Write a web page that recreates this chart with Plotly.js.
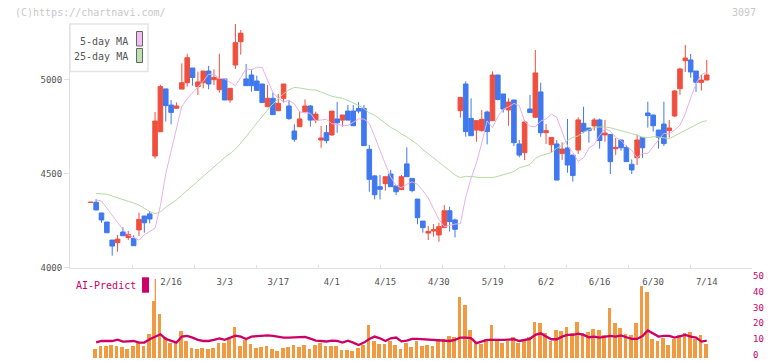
<!DOCTYPE html>
<html>
<head>
<meta charset="utf-8">
<script src="https://cdn.plot.ly/plotly-3.0.1.min.js"></script>
<style>html,body{margin:0;padding:0;background:#fff;}#chart{width:772px;height:361px;}</style>
</head>
<body>
<div id="chart"></div>
<script>
// ---- data ----
const openP  = [4346,4347,4290,4242,4146,4132,4189,4159,4155,4200,4274,4285,4593,4722,4950,4864,4847,4949,4983,5061,4962,4983,5045,4999,4946,5003,4891,5077,5201,5003,5024,4992,4976,4855,4900,4834,4900,4859,4726,4749,4829,4859,4784,4678,4717,4705,4790,4784,4832,4832,4846,4846,4629,4487,4430,4446,4497,4434,4414,4551,4474,4364,4247,4183,4194,4173,4212,4302,4253,4834,4976,4793,4731,4728,4827,4781,5024,4923,4838,4891,4657,4611,4843,4799,4934,4717,4653,4657,4606,4636,4598,4625,4767,4742,4753,4785,4705,4708,4632,4678,4639,4549,4584,4692,4822,4811,4731,4763,4728,4806,4951,5100,5104,5045,4985,4997];
const highP  = [4347,4364,4290,4242,4146,4173,4214,4194,4171,4292,4274,4300,4827,4972,4950,4891,4878,5086,5137,5061,5042,5045,5072,5054,5137,5003,4953,5295,5263,5082,5054,5020,4976,4971,4930,4923,4976,4891,4762,4832,4894,4864,4829,4753,4758,4832,4880,4811,4864,4864,4880,4864,4652,4492,4492,4483,4519,4434,4492,4639,4474,4364,4247,4221,4231,4238,4332,4323,4260,4905,4990,4900,4785,4838,4834,5043,5024,4923,4900,4891,4678,4785,4918,5157,4983,4763,4692,4678,4666,4790,4598,4799,4855,4742,4795,4792,4785,4708,4689,4678,4650,4575,4708,4692,4882,4811,4731,4882,4785,4944,5063,5184,5136,5045,5024,5104];
const lowP   = [4346,4306,4238,4185,4063,4084,4169,4146,4116,4168,4185,4235,4579,4722,4776,4761,4847,4949,4962,4967,4917,4953,4948,4971,4930,4891,4877,5056,5132,4967,4935,4942,4877,4855,4813,4834,4877,4785,4669,4749,4820,4749,4767,4637,4660,4700,4717,4749,4784,4754,4820,4648,4403,4362,4362,4409,4430,4386,4414,4483,4400,4230,4185,4146,4164,4137,4212,4191,4160,4797,4696,4701,4669,4723,4655,4781,4889,4824,4754,4646,4586,4572,4824,4795,4696,4657,4611,4465,4572,4504,4457,4604,4714,4664,4728,4632,4669,4497,4598,4622,4563,4497,4545,4584,4744,4723,4632,4646,4691,4800,4919,5040,5010,4934,4941,4997];
const closeP = [4347,4306,4253,4185,4114,4151,4169,4176,4116,4256,4238,4258,4779,4962,4861,4825,4859,4983,5116,5011,4987,5045,4976,5011,5003,4891,4953,5196,5246,4967,4967,4942,4877,4900,4813,4873,4976,4792,4682,4790,4859,4784,4816,4689,4675,4832,4770,4811,4784,4754,4832,4648,4469,4387,4416,4483,4430,4403,4483,4483,4409,4265,4212,4192,4201,4217,4302,4244,4203,4905,4723,4701,4781,4788,4723,5024,4894,4843,4880,4664,4598,4774,4824,5035,4717,4728,4692,4465,4630,4545,4489,4785,4723,4728,4785,4675,4715,4563,4639,4637,4563,4519,4678,4637,4808,4754,4692,4659,4742,4939,5056,5114,5040,4985,4997,5024];
const ma5    = [null,4359,4354,4316,4276,4241,4202,4174,4159,4145,4174,4191,4209,4329,4499,4620,4737,4857,4898,4929,4959,4991,5028,5027,5006,5004,4985,4967,5011,5058,5051,5066,5064,5000,4931,4900,4881,4888,4871,4827,4823,4820,4781,4786,4788,4765,4759,4756,4755,4774,4790,4790,4766,4697,4618,4550,4481,4437,4424,4443,4456,4442,4409,4370,4312,4256,4217,4225,4231,4233,4374,4475,4555,4663,4780,4743,4803,4842,4854,4873,4861,4776,4752,4748,4779,4790,4816,4799,4727,4646,4612,4564,4583,4634,4654,4702,4739,4725,4693,4675,4646,4623,4584,4607,4607,4641,4679,4714,4710,4731,4757,4818,4902,4978,5027,5038];
const ma25   = [null,4394,4393,4390,4380,4372,4362,4352,4343,4332,4315,4298,4286,4296,4320,4340,4360,4385,4410,4438,4465,4490,4515,4538,4560,4585,4605,4630,4662,4695,4732,4768,4805,4838,4870,4898,4925,4945,4958,4955,4948,4945,4944,4932,4920,4911,4905,4900,4888,4877,4862,4845,4822,4810,4790,4767,4745,4731,4710,4695,4675,4655,4628,4605,4584,4560,4537,4514,4492,4478,4485,4484,4480,4478,4478,4478,4485,4492,4502,4510,4530,4540,4548,4580,4595,4603,4612,4634,4650,4676,4692,4700,4720,4732,4745,4747,4748,4743,4736,4730,4723,4712,4703,4693,4690,4696,4694,4690,4685,4700,4714,4730,4746,4760,4774,4781];
const volume = [null,5.5,7.4,7.4,8.1,7.4,6.8,5.5,7.4,9.4,7.4,15.1,50,28.0,13.4,9.4,9.4,17.0,10.6,6.2,5.5,6.2,5.5,6.2,9.4,9.4,11.7,19.6,7.4,11.3,8.8,6.2,6.8,7.4,5.5,4.3,6.2,6.8,8.1,6.8,8.1,5.5,8.1,9.6,7.4,7.4,7.4,4.9,4.9,4.3,6.2,8.1,20.8,10.6,8.8,8.8,10.6,8.1,5.5,9.4,6.8,10.6,7.4,8.1,7.4,10.6,11.7,13.8,13.2,38.6,33.7,17.6,10.0,8.8,11.7,20.8,11.7,9.4,10.6,13.2,9.4,10.6,13.2,22.7,22.1,16.0,10.6,17.6,17.0,19.6,15.8,22.7,16.0,16.4,18.3,17.6,14.5,31.7,22.1,18.9,15.1,14.5,22.1,45.7,41.9,11.9,10.6,12.6,8.1,11.9,14.5,16.0,16.4,11.9,14.5,8.8];
const aiPredict = [null,9.8,10.6,10.6,10.6,11.4,10.2,10.4,10.6,9.6,9.6,11.7,13.5,14.9,11.9,10.8,9.6,13.4,13.8,12.7,11.3,10.6,10.6,11.3,12.3,11.3,12.9,14.0,13.4,11.9,13.4,13.6,13.6,14.2,13.8,13.2,12.8,12.8,12.8,12.8,13.2,12.1,10.8,10.6,10.3,10.8,10.6,9.6,10.8,9.6,8.1,9.6,11.9,13.4,12.3,10.6,12.3,12.8,10.4,10.8,11.9,11.9,11.7,11.5,11.4,11.3,11.0,10.6,11.3,12.8,12.8,12.4,9.2,10.4,11.3,11.3,11.1,11.3,11.5,11.7,10.6,11.3,12.0,14.5,15.5,13.4,11.7,11.7,13.4,14.5,14.5,15.3,14.5,13.0,13.4,12.8,13.4,13.8,13.4,14.2,13.0,11.9,11.9,13.8,17.3,15.5,13.4,13.8,13.8,12.8,13.8,14.5,13.4,12.8,10.2,10.8];
const tickLabels = ['2/16','3/3','3/17','4/1','4/15','4/30','5/19','6/2','6/16','6/30','7/14'];
const tickDayIndex = [15,25,35,45,55,65,75,85,95,105,115];
const priceTicks = [4000,4500,5000];
const predictTicks = [0,10,20,30,40,50];

// ---- geometry helpers ----
const W = 772, H = 361, ML = 70, MR = 20, MT = 24, MB = 3;
const PW = W - ML - MR, PH = H - MT - MB;
const px = x => (x - ML) / PW;
const py = y => (H - MB - y) / PH;
const idx = closeP.map((_, i) => i);
const xr = [-3.88, 123.45];

const MONO = 'DejaVu Sans Mono, monospace';
const RED = '#f04f3e', BLUE = '#3f78ef';
const AXC = '#e2e2e2';

const traces = [
  {type:'candlestick', x: idx, open: openP, high: highP, low: lowP, close: closeP,
   xaxis:'x', yaxis:'y', whiskerwidth: 0,
   increasing:{line:{color:RED,width:1}, fillcolor:RED},
   decreasing:{line:{color:BLUE,width:1}, fillcolor:BLUE},
   hoverinfo:'skip', showlegend:false},
  {type:'scatter', mode:'lines', x: idx, y: ma25, xaxis:'x', yaxis:'y',
   line:{color:'#b2dba2', width:1}, hoverinfo:'skip', showlegend:false},
  {type:'scatter', mode:'lines', x: idx, y: ma5, xaxis:'x', yaxis:'y',
   line:{color:'#e8b0ea', width:1}, hoverinfo:'skip', showlegend:false},
  {type:'scatter', mode:'lines', x: tickDayIndex, y: tickDayIndex.map(()=>null), xaxis:'x3', yaxis:'y',
   hoverinfo:'skip', showlegend:false},
  {type:'bar', x: idx, y: volume, xaxis:'x2', yaxis:'y2', width: 0.69, offset: -0.52,
   marker:{color:'#f29a42', line:{width:0}}, hoverinfo:'skip', showlegend:false},
  {type:'scatter', mode:'lines', x: idx, y: aiPredict, xaxis:'x2', yaxis:'y3',
   line:{color:'#cc0066', width:2.3}, hoverinfo:'skip', showlegend:false}
];

const layout = {
  width: W, height: H,
  margin: {l: ML, r: MR, t: MT, b: MB},
  paper_bgcolor: '#ffffff', plot_bgcolor: '#ffffff',
  showlegend: false,
  boxgap: 0.1, boxgroupgap: 0.05,
  bargap: 0,
  font: {family: MONO, size: 9, color: '#555'},
  xaxis: {domain:[0,1], anchor:'y', range: xr, showline:true, linecolor:AXC, linewidth:1,
          ticks:'inside', ticklen:3, tickcolor:AXC, tickmode:'linear', tick0: xr[0],
          dtick:(xr[1]-xr[0])/11, showticklabels:false, showgrid:false, zeroline:false,
          fixedrange:true, rangeslider:{visible:false}},
  xaxis3: {overlaying:'x', anchor:'y', range: xr, side:'bottom', tickmode:'array',
           tickvals: tickDayIndex, ticktext: tickLabels, ticks:'outside', ticklen:6,
           tickcolor:'rgba(0,0,0,0)', showline:false, showgrid:false, zeroline:false,
           tickfont:{family:MONO, size:9, color:'#555'}, fixedrange:true},
  xaxis2: {domain:[0,1], anchor:'y2', range: xr, visible:false, fixedrange:true},
  yaxis: {domain:[py(267.5), 1], anchor:'x', range:[4000, 5295.2], tickmode:'array',
          tickvals: priceTicks, ticks:'outside', ticklen:5, tickcolor:AXC,
          showline:true, linecolor:AXC, linewidth:1, showgrid:false, zeroline:false,
          tickfont:{family:MONO, size:9, color:'#555'}, fixedrange:true},
  yaxis2: {domain:[0, py(279)], anchor:'x2', range:[-0.2,50], visible:false, fixedrange:true},
  yaxis3: {overlaying:'y2', anchor:'x2', side:'right', range:[-0.2,50], tickmode:'array',
           tickvals: predictTicks, ticklabeloverflow:'allow', ticklabelshift: -3,
           ticks:'', showline:false, showgrid:false, zeroline:false,
           tickfont:{family:MONO, size:9, color:'#cc0066'}, fixedrange:true},
  shapes: [
    {type:'rect', xref:'paper', yref:'paper', x0:px(70), x1:px(148), y0:py(24), y1:py(71.5),
     line:{color:'#e4e4e4', width:1.5}, fillcolor:'#ffffff', layer:'above'},
    {type:'rect', xref:'paper', yref:'paper', x0:px(136.5), x1:px(142.5), y0:py(31.5), y1:py(46),
     line:{color:'#666', width:1}, fillcolor:'#f0bff0', layer:'above'},
    {type:'rect', xref:'paper', yref:'paper', x0:px(136.5), x1:px(142.5), y0:py(48.5), y1:py(62.5),
     line:{color:'#666', width:1}, fillcolor:'#bfe0b0', layer:'above'},
    {type:'rect', xref:'paper', yref:'paper', x0:px(60), x1:px(154.7), y0:py(270), y1:py(301),
     line:{width:0}, fillcolor:'#ffffff', layer:'above'},
    {type:'rect', xref:'paper', yref:'paper', x0:px(142), x1:px(149), y0:py(277.3), y1:py(292.7),
     line:{width:0}, fillcolor:'#cc0066', layer:'above'}
  ],
  annotations: [
    {text:'5-day MA', xref:'paper', yref:'paper', x:px(130), y:py(41), xanchor:'right', yanchor:'middle',
     showarrow:false, font:{family:MONO, size:10, color:'#555'}},
    {text:'25-day MA', xref:'paper', yref:'paper', x:px(130), y:py(56.5), xanchor:'right', yanchor:'middle',
     showarrow:false, font:{family:MONO, size:10, color:'#555'}},
    {text:'AI-Predict', xref:'paper', yref:'paper', x:px(74), y:py(285.7), xanchor:'left', yanchor:'middle',
     showarrow:false, font:{family:MONO, size:10, color:'#cc0066'}},
    {text:'(C)https://chartnavi.com/', xref:'paper', yref:'paper', x:px(13), y:py(12.3), xanchor:'left', yanchor:'middle',
     showarrow:false, font:{family:MONO, size:10, color:'#c8c8c8'}},
    {text:'3097', xref:'paper', yref:'paper', x:px(758), y:py(12.3), xanchor:'right', yanchor:'middle',
     showarrow:false, font:{family:MONO, size:10, color:'#c8c8c8'}}
  ]
};

Plotly.newPlot('chart', traces, layout, {staticPlot:true, displayModeBar:false});
</script>
</body>
</html>
